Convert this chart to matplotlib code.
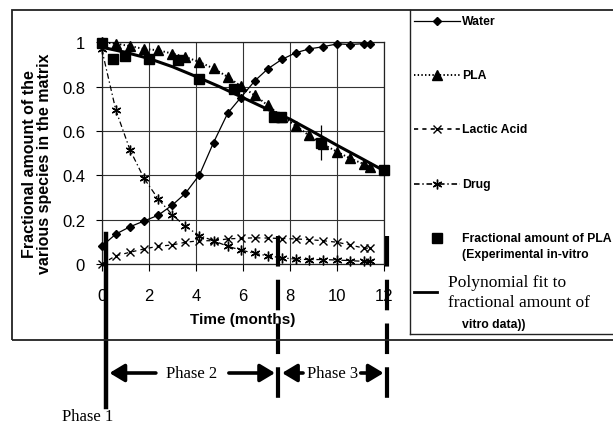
import matplotlib
matplotlib.use("Agg")
import matplotlib.pyplot as plt
from matplotlib.lines import Line2D
from matplotlib.patches import Rectangle
from matplotlib.transforms import blended_transform_factory

# ---------------- data ----------------
time = [0, 0.6, 1.2, 1.8, 2.4, 3.0, 3.55, 4.15, 4.75, 5.35, 5.9, 6.5, 7.05, 7.65,
        8.25, 8.8, 9.4, 10.0, 10.55, 11.15, 11.4]
water = [0.08, 0.135, 0.168, 0.194, 0.22, 0.266, 0.318, 0.402, 0.548, 0.68, 0.75,
         0.826, 0.88, 0.923, 0.953, 0.97, 0.98, 0.993, 0.99, 0.994, 0.994]
pla = [1.0, 0.994, 0.983, 0.97, 0.964, 0.949, 0.934, 0.911, 0.882, 0.844, 0.803,
       0.761, 0.716, 0.665, 0.623, 0.58, 0.54, 0.506, 0.476, 0.45, 0.436]
lactic = [0.0, 0.037, 0.053, 0.068, 0.08, 0.086, 0.098, 0.105, 0.105, 0.113, 0.116,
          0.118, 0.117, 0.115, 0.113, 0.11, 0.105, 0.098, 0.086, 0.071, 0.072]
drug = [0.97, 0.694, 0.515, 0.386, 0.293, 0.222, 0.17, 0.128, 0.105, 0.08, 0.063,
        0.048, 0.037, 0.028, 0.022, 0.02, 0.02, 0.018, 0.015, 0.012, 0.012]

t_exp = [0, 0.5, 1.0, 2.0, 3.25, 4.15, 5.6, 7.3, 7.6, 9.3, 12.0]
pla_exp = [0.995, 0.923, 0.936, 0.923, 0.92, 0.836, 0.79, 0.665, 0.665, 0.548, 0.425]
pla_exp_err = [0, 0, 0, 0, 0, 0, 0, 0, 0, 0.077, 0]

t_fit = [0, 1, 2, 3, 4, 5, 6, 7, 8, 9, 10, 11, 12]
pla_fit = [0.978, 0.955, 0.927, 0.89, 0.846, 0.80, 0.75, 0.70, 0.653, 0.595, 0.535,
           0.478, 0.42]

x_ticks = [0, 2, 4, 6, 8, 10, 12]
y_ticks = [0, 0.2, 0.4, 0.6, 0.8, 1.0]
y_tick_labels = ["0", "0.2", "0.4", "0.6", "0.8", "1"]

phase_bounds = [0.17, 7.5, 12.12]
phase_names = ["Phase 1", "Phase 2", "Phase 3"]

# ---------------- figure ----------------
W, H = 613, 427
fig = plt.figure(figsize=(W / 100, H / 100), dpi=100)
plt.rcParams['lines.scale_dashes'] = False
SANS = "Liberation Sans"
SERIF = "Liberation Serif"


def px(x, y):
    return (x / W, 1 - y / H)


def fy(y):
    return 1 - y / H


ax = fig.add_axes([101.7 / W, 1 - 265 / H, (384.3 - 101.7) / W, (265 - 43.3) / H])
ax.set_xlim(0, 12)
ax.set_ylim(0, 1)
ax.set_xticks(x_ticks)
ax.set_yticks(y_ticks)
ax.set_yticklabels(y_tick_labels)
for lab in ax.get_xticklabels() + ax.get_yticklabels():
    lab.set_fontfamily(SANS)
    lab.set_fontsize(12)
ax.tick_params(axis='x', length=5, width=0.8, pad=12, direction='out')
ax.tick_params(axis='y', length=4, width=0.8, pad=8, direction='out')
ax.grid(True, color='#333333', lw=0.8)
for s in ax.spines.values():
    s.set_color('#222222')
    s.set_linewidth(0.9)

ax.set_xlabel("Time (months)", fontfamily=SANS, fontweight='bold', fontsize=11, labelpad=7)
ax.set_ylabel("Fractional amount of the\nvarious species in the matrix",
              fontfamily=SANS, fontweight='bold', fontsize=11.5,
              linespacing=1.0, va='center', ha='center')
ax.yaxis.set_label_coords((37.5 - 101.7) / 282.6, (265 - 164) / 221.7)

ax.plot(time, water, '-', color='black', lw=0.9, marker='D', ms=4.5, clip_on=False, zorder=4)
ax.plot(time, pla, ':', color='black', lw=1.4, marker='^', ms=6.5, clip_on=False, zorder=4)
ax.plot(time, lactic, '--', dashes=(3, 3), color='black', lw=0.9, marker='x', ms=6,
        mew=1.0, clip_on=False, zorder=4)
ax.plot(time, drug, '-.', dashes=(4, 2, 1, 2), color='black', lw=0.9, marker=(6, 2, 0),
        ms=7, mew=1.0, clip_on=False, zorder=4)
ax.plot(t_fit, pla_fit, '-', color='black', lw=2.2, clip_on=False, zorder=5)
ax.errorbar(t_exp, pla_exp, yerr=pla_exp_err, fmt='s', color='black', ms=7.5,
            elinewidth=0.9, capsize=0, clip_on=False, zorder=6)

# ---------------- phase markers ----------------
bt = blended_transform_factory(ax.transData, fig.transFigure)
ax.plot([phase_bounds[0]] * 2, [fy(235), fy(408)], color='black', lw=3.2,
        transform=bt, clip_on=False, zorder=7)
for xb in phase_bounds[1:]:
    ax.plot([xb] * 2, [fy(237), fy(401)], color='black', lw=3.0, dashes=(22, 9.5),
            transform=bt, clip_on=False, zorder=7)

arrow_y = fy(374)
mid2 = (phase_bounds[0] + phase_bounds[1]) / 2
mid3 = (phase_bounds[1] + phase_bounds[2]) / 2
ax.text(mid2, arrow_y, phase_names[1], transform=bt, ha='center', va='center',
        fontfamily=SERIF, fontsize=12)
ax.text(mid3, arrow_y, phase_names[2], transform=bt, ha='center', va='center',
        fontfamily=SERIF, fontsize=12)
fig.text(*px(88, 417), phase_names[0], ha='center', va='center',
         fontfamily=SERIF, fontsize=12)

arrow_props = dict(arrowstyle='-|>,head_length=0.45,head_width=0.27', lw=2.6,
                   color='black', shrinkA=0, shrinkB=0, mutation_scale=20)
for x_from, x_to in [(2.3, 0.33), (5.4, 7.36), (8.55, 7.66), (11.0, 11.97)]:
    ax.annotate('', xy=(x_to, arrow_y), xytext=(x_from, arrow_y),
                xycoords=bt, textcoords=bt, arrowprops=arrow_props,
                annotation_clip=False)

# ---------------- frames ----------------
fig.add_artist(Rectangle(px(12, 341), (W + 5 - 12) / W, (341 - 11) / H,
                         fill=False, lw=1.3, ec='#222222', transform=fig.transFigure))
fig.add_artist(Line2D([410 / W, 410 / W], [fy(11), fy(335)], color='#222222', lw=1.0))
fig.add_artist(Line2D([410 / W, 1.01], [fy(335), fy(335)], color='#222222', lw=1.0))

# ---------------- legend (manual) ----------------
def leg_line(y, marker, ms, mew=1.0, **kw):
    fig.add_artist(Line2D([414 / W, 460 / W], [fy(y), fy(y)], color='black', **kw))
    fig.add_artist(Line2D([437 / W], [fy(y)], color='black', ls='none',
                          marker=marker, ms=ms, mew=mew))

leg_line(22, 'D', 4.5, lw=0.9, ls='-')
leg_line(76, '^', 6.5, lw=1.4, ls=':')
leg_line(130, 'x', 6, lw=1.2, dashes=(3, 3))
leg_line(185, (6, 2, 0), 7, lw=1.2, dashes=(4, 2, 1, 2))

lk = dict(fontfamily=SANS, fontweight='bold', fontsize=8.8, va='center', ha='left')
fig.text(*px(462, 22), "Water", **lk)
fig.text(*px(462, 76), "PLA", **lk)
fig.text(*px(462, 130), "Lactic Acid", **lk)
fig.text(*px(462, 185), "Drug", **lk)

fig.add_artist(Line2D([437 / W], [fy(239)], color='black', ls='none', marker='s', ms=6.5))
fig.text(*px(462, 239), "Fractional amount of PLA", **lk)
fig.text(*px(462, 255), "(Experimental in-vitro", **lk)

fig.add_artist(Line2D([414 / W, 437 / W], [fy(293), fy(293)], color='black', lw=2.0))
fig.text(*px(448, 283), "Polynomial fit to", fontfamily=SERIF, fontsize=12.5,
         va='center', ha='left')
fig.text(*px(448, 303), "fractional amount of", fontfamily=SERIF, fontsize=12.5,
         va='center', ha='left')
fig.text(*px(462, 325), "vitro data))", **lk)

fig.savefig("out.png", dpi=100)
